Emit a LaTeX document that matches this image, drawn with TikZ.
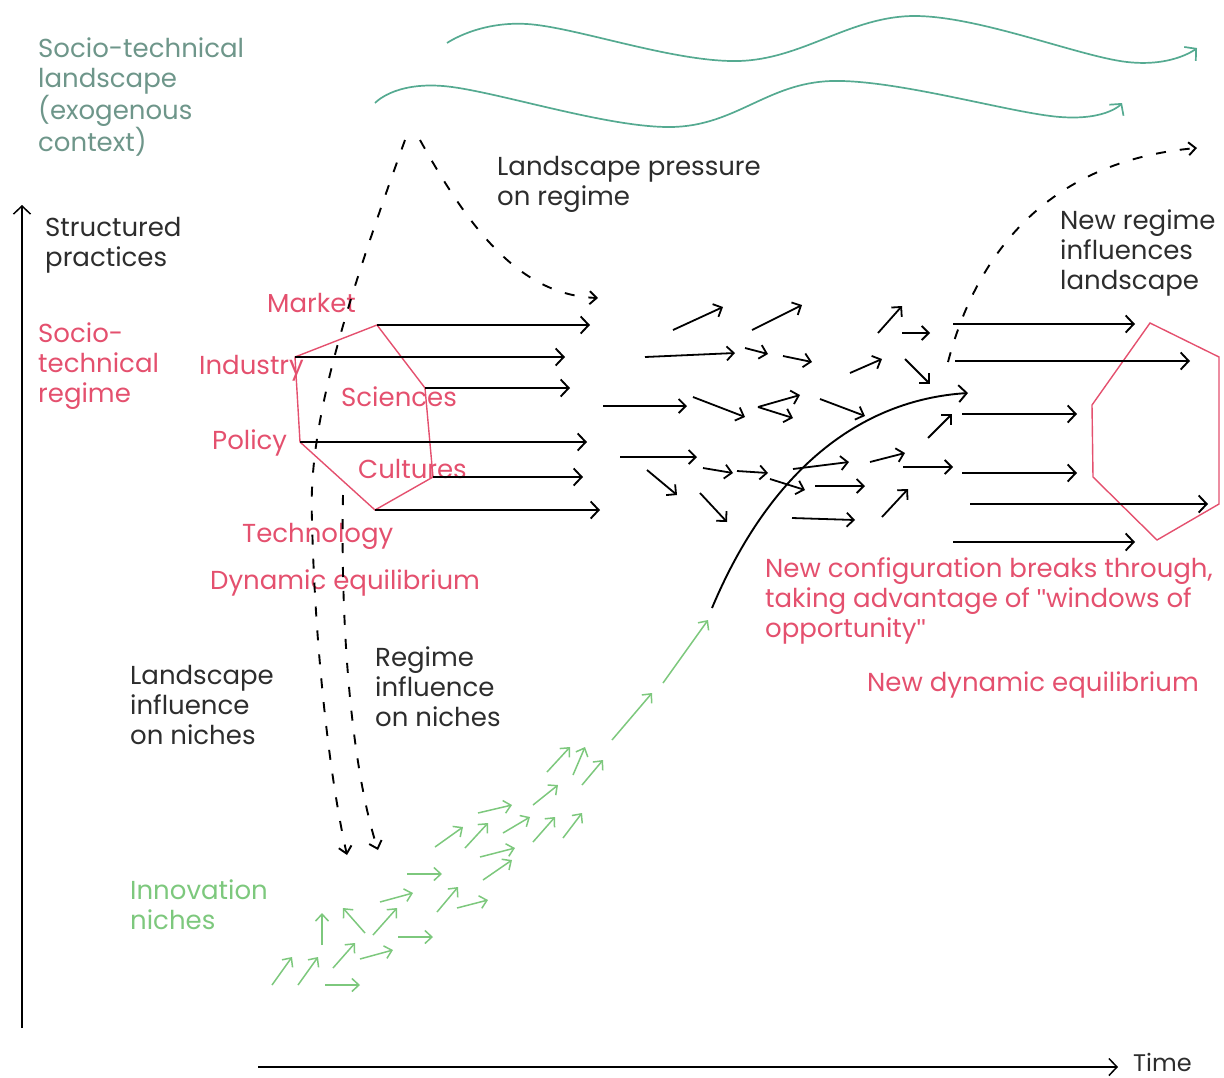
\documentclass[tikz,border=0pt]{standalone}
\usepackage{fontspec}
\setmainfont{Poppins}
\newfontfamily\quotefont{Liberation Sans}
\newcommand{\dq}{{\quotefont"}}
\usetikzlibrary{arrows.meta}
\definecolor{landgreen}{RGB}{85,170,145}
\definecolor{landtext}{RGB}{110,150,138}
\definecolor{regred}{RGB}{228,80,110}
\definecolor{nichegreen}{RGB}{125,200,125}
\definecolor{txtgray}{RGB}{45,45,45}
\tikzset{
  lbl/.style={font=\fontsize{26}{30}\selectfont, align=left, inner sep=0pt, anchor=west},
  arr/.style={line width=1.9pt, -{Straight Barb[length=8pt,width=17pt]}},
  smallarr/.style={line width=1.8pt, -{Straight Barb[length=7pt,width=14pt]}},
  nichearr/.style={nichegreen, line width=1.5pt, -{Straight Barb[length=7pt,width=13pt]}},
  wave/.style={landgreen, line width=1.7pt, -{Straight Barb[length=8pt,width=18pt]}},
  influence/.style={line width=1.9pt, dash pattern=on 10pt off 14pt, -{Straight Barb[length=7pt,width=13pt]}},
  regline/.style={regred, line width=1.4pt}
}
\begin{document}
\begin{tikzpicture}[x=1pt,y=-1pt]
    \useasboundingbox (0,0) rectangle (1224,1077);

    \node [lbl, landtext] (land) at (38,97) {Socio-technical\\landscape\\(exogenous\\context)};
    \node [lbl, txtgray] (struct) at (45,245) {Structured\\practices};
    \node [lbl, regred] (regime) at (38,366) {Socio-\\technical\\regime};
    \node [lbl, nichegreen] (niches) at (130,905) {Innovation\\niches};

    \node [lbl, regred] (market) at (267,303) {Market};
    \node [lbl, regred] (industry) at (199,368) {Industry};
    \node [lbl, regred] (sciences) at (341,397) {Sciences};
    \node [lbl, regred] (policy) at (212,443) {Policy};
    \node [lbl, regred] (cultures) at (358,469) {Cultures};
    \node [lbl, regred] (techno) at (242,536) {Technology};
    \node [lbl, regred] (dyneq) at (210,583) {Dynamic equilibrium};

    \node [lbl, txtgray] (pressure) at (497,184) {Landscape pressure\\on regime};
    \node [lbl, txtgray] (newreg) at (1060,253) {New regime\\influences\\landscape};
    \node [lbl, regred] (breaks) at (765,601) {New configuration breaks through,\\taking advantage of \dq windows of\\opportunity\dq};
    \node [lbl, regred] (newdyn) at (867,685) {New dynamic equilibrium};
    \node [lbl, txtgray] (landinf) at (130,705) {Landscape\\influence\\on niches};
    \node [lbl, txtgray] (reginf) at (375,687) {Regime\\influence\\on niches};
    \node [lbl, txtgray, font=\fontsize{24}{28}\selectfont] (time) at (1133,1062) {Time};

    % axes
    \coordinate (yfoot) at (22,1028);
    \coordinate (ytop) at (22,205);
    \coordinate (xfoot) at (258,1067);
    \coordinate (xtip) at (1118,1067);
    \draw [arr, line width=1.5pt] (yfoot) -- (ytop);
    \draw [arr, line width=1.5pt] (xfoot) -- (xtip);

    % landscape waves
    \draw [wave] plot [smooth, tension=0.6] coordinates {(447,43) (527,24) (738,61) (915,16) (1127,62) (1197,48)};
    \draw [wave] plot [smooth, tension=0.6] coordinates {(375,103) (443,86) (671,127) (832,81) (1060,117) (1122,103)};

    % regime hexagon
    \coordinate (h1) at (377,325);
    \coordinate (h2) at (425,388);
    \coordinate (h3) at (433,477);
    \coordinate (h4) at (375,510);
    \coordinate (h5) at (300,442);
    \coordinate (h6) at (295,357);
    \draw [regline] (h1) -- (h2) -- (h3) -- (h4) -- (h5) -- (h6) -- cycle;
    \draw [arr] (h1) -- (590,325);
    \draw [arr] (h6) -- (565,357);
    \draw [arr] (h2) -- (570,388);
    \draw [arr] (h5) -- (587,442);
    \draw [arr] (h3) -- (583,477);
    \draw [arr] (h4) -- (600,510);

    % scattered regime
    \foreach \xa/\ya/\xb/\yb in {673/330/723/307, 752/330/802/305, 645/357/735/353, 745/348/768/354,
        783/356/812/362, 878/333/902/306, 902/333/930/333, 850/373/882/359, 905/359/930/384,
        603/406/687/406, 693/397/745/417, 758/407/800/395, 758/407/793/418, 820/399/865/416,
        620/457/697/457, 647/470/677/495, 703/468/733/473, 737/471/768/473, 770/479/805/490,
        793/469/849/462, 870/462/905/453, 815/486/865/486, 903/467/953/467, 700/493/727/522,
        792/518/855/520, 882/517/908/489, 928/438/952/414}
        \draw [smallarr] (\xa,\ya) -- (\xb,\yb);

    % new regime hexagon
    \coordinate (k1) at (1150,323);
    \coordinate (k2) at (1219,357);
    \coordinate (k3) at (1219,504);
    \coordinate (k4) at (1157,540);
    \coordinate (k5) at (1093,477);
    \coordinate (k6) at (1092,405);
    \draw [regline] (k1) -- (k2) -- (k3) -- (k4) -- (k5) -- (k6) -- cycle;
    \foreach \xa/\ya/\xb in {953/324/1135, 955/361/1190, 962/414/1077, 962/473/1077, 970/504/1208, 953/542/1135}
        \draw [arr] (\xa,\ya) -- (\xb,\ya);

    % niches
    \foreach \xa/\ya/\xb/\yb in {272/985/292/957, 298/985/318/957, 325/985/360/985, 333/968/355/943,
        360/959/393/950, 322/945/322/913, 365/933/343/908, 373/935/397/908, 398/937/433/937,
        380/902/413/893, 407/874/442/874, 437/912/458/887, 457/908/488/900, 435/847/463/827,
        465/848/488/823, 480/857/515/848, 483/880/512/860, 478/813/512/805, 503/833/530/817,
        533/842/555/817, 563/838/582/813, 533/805/558/785, 547/772/570/747, 573/775/585/747,
        582/785/603/760, 612/740/652/693, 663/683/708/620}
        \draw [nichearr] (\xa,\ya) -- (\xb,\yb);

    % breakthrough
    \coordinate (bstart) at (712,608);
    \coordinate (bend) at (968,393);
    \draw [arr] (bstart) .. controls (770,470) and (860,400) .. (bend);

    % influences
    \coordinate (ltop) at (405,140);
    \coordinate (lmid) at (312,520);
    \coordinate (lfoot) at (347,855);
    \coordinate (rtop) at (343,495);
    \coordinate (rfoot) at (378,850);
    \coordinate (ptop) at (420,140);
    \coordinate (pfoot) at (598,298);
    \coordinate (ntop) at (948,362);
    \coordinate (nfoot) at (1197,148);
    \draw [influence] (ltop) .. controls (340,320) and (308,430) .. (lmid) .. controls (315,650) and (330,780) .. (lfoot);
    \draw [influence] (rtop) .. controls (340,650) and (355,780) .. (rfoot);
    \draw [influence] (ptop) .. controls (470,230) and (520,295) .. (pfoot);
    \draw [influence] (ntop) .. controls (980,240) and (1060,160) .. (nfoot);
\end{tikzpicture}
\end{document}
